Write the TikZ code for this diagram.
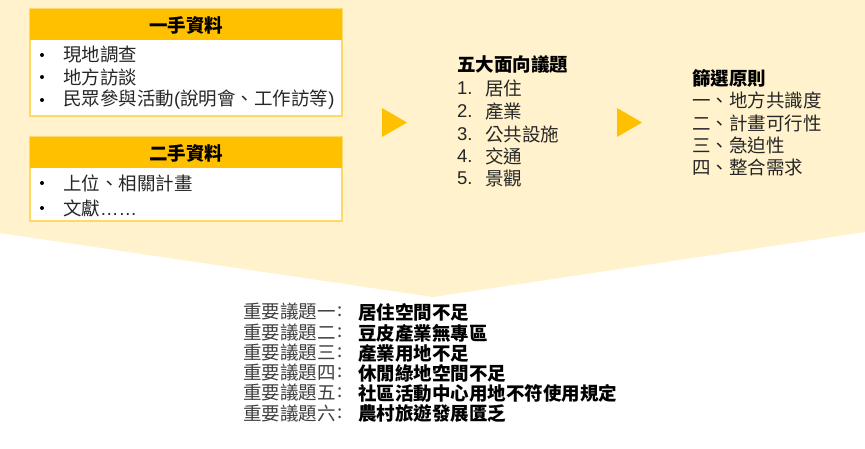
\documentclass[tikz,border=0pt]{standalone}
\usepackage{fontspec}
\setmainfont{Noto Sans CJK TC}
\newfontfamily\latinf{Liberation Sans}
\definecolor{gold}{HTML}{FFC000}
\definecolor{paleyel}{HTML}{FFF2CC}
\definecolor{edgeyel}{HTML}{FFD966}
\definecolor{bodygray}{HTML}{262626}
\definecolor{midgray}{HTML}{404040}
\begin{document}
\begin{tikzpicture}[x=1pt,y=-1pt,
  txt/.style={inner sep=0pt, anchor=west, font=\fontsize{18.5}{22}\selectfont, text=bodygray},
  ttl/.style={inner sep=0pt, anchor=west, font=\fontsize{18.5}{22}\selectfont\bfseries, text=black},
  hdr/.style={inner sep=0pt, font=\fontsize{18.5}{22}\selectfont\bfseries, text=black},
  bul/.style={circle, fill=black, inner sep=0pt, minimum size=4pt},
  tri/.style={fill=gold, draw=none},
  hdrbox/.style={fill=gold, draw=none},
  bodybox/.style={fill=white, draw=edgeyel, line width=1.2pt},
  lft/.style={inner sep=0pt, anchor=west, font=\fontsize{18.5}{22}\selectfont, text=midgray},
  rgt/.style={inner sep=0pt, anchor=west, font=\fontsize{18.5}{22}\selectfont\bfseries, text=black}]
\useasboundingbox (0,0) rectangle (865,448);
\fill[white] (0,0) rectangle (865,448);
% background chevron
\fill[paleyel] (0,0) -- (865,0) -- (865,232) -- (433,297) -- (0,233) -- cycle;

% box 1
\draw[bodybox] (30,9) rectangle (342,116);
\fill[hdrbox] (30,9) rectangle (342,40);
\node[hdr] (h1) at (186,25) {一手資料};
\foreach \y/\t [count=\i] in {55/現地調查, 77/地方訪談, 100/{民眾參與活動\latinf(\rmfamily 說明會、工作訪等\latinf)}} {
  \node[bul] (b1\i) at (42,\y) {};
  \node[txt] (t1\i) at (63,\y) {\t};
}

% box 2
\draw[bodybox] (30,137) rectangle (342,221);
\fill[hdrbox] (30,137) rectangle (342,168);
\node[hdr] (h2) at (186,153) {二手資料};
\foreach \y/\t [count=\i] in {183/上位、相關計畫, 208/文獻\latinf{……}} {
  \node[bul] (b2\i) at (42,\y) {};
  \node[txt] (t2\i) at (63,\y) {\t};
}

% arrows
\fill[tri] (382,108) -- (407,122.5) -- (382,137) -- cycle;
\fill[tri] (617,108) -- (642,122.5) -- (617,137) -- cycle;

% five aspects
\node[ttl] (fivet) at (457,65) {五大面向議題};
\foreach \y/\t [count=\i] in {88/居住, 111/產業, 134/公共設施, 156.5/交通, 178.5/景觀} {
  \node[txt, font=\fontsize{18.5}{22}\latinf] (fn\i) at (457,\y) {\i.};
  \node[txt] (ft\i) at (485,\y) {\t};
}

% screening principles
\node[ttl] (scrt) at (692,78) {篩選原則};
\foreach \y/\t [count=\i] in {100/一、地方共識度, 123/二、計畫可行性, 145/三、急迫性, 167/四、整合需求} {
  \node[txt] (st\i) at (692,\y) {\t};
}

% important issues
\foreach \y/\a/\b [count=\i] in {312/一/居住空間不足, 333/二/豆皮產業無專區, 353/三/產業用地不足, 373/四/休閒綠地空間不足, 393/五/社區活動中心用地不符使用規定, 414/六/農村旅遊發展匱乏} {
  \node[lft] (il\i) at (243,\y) {重要議題\a};
  \node[inner sep=0pt, font=\fontsize{18.5}{22}\selectfont, text=midgray] (ic\i) at (340,\y) {:};
  \node[rgt] (ir\i) at (358,\y) {\b};
}
\end{tikzpicture}
\end{document}
